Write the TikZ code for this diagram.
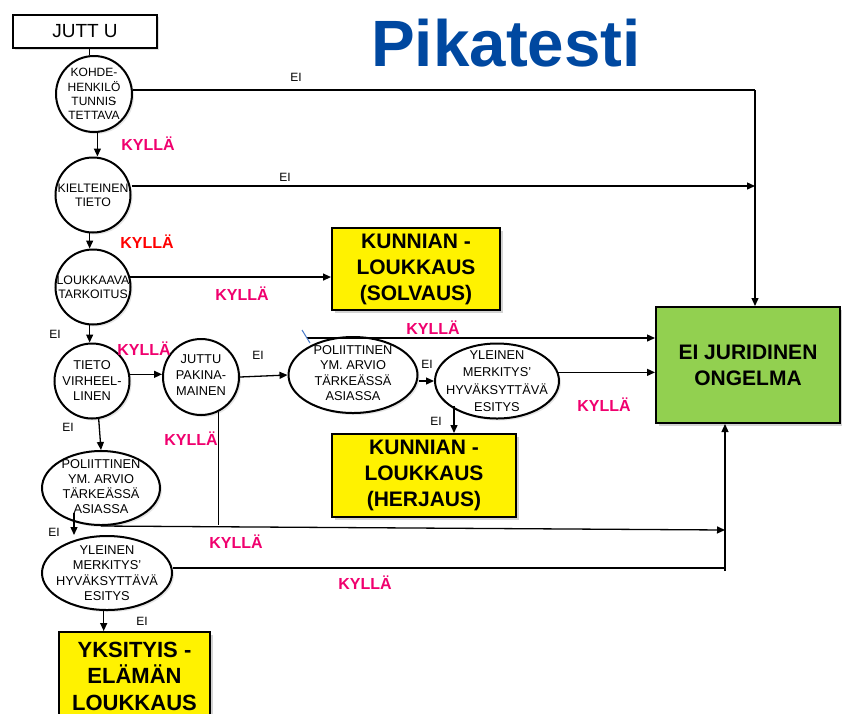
\documentclass[tikz,border=0pt]{standalone}
\usepackage{fontspec}
\setmainfont{Liberation Sans}
\usetikzlibrary{shapes.geometric,arrows.meta,shadows}
\definecolor{titleblue}{RGB}{0,72,160}
\definecolor{kpink}{RGB}{240,0,110}
\definecolor{kred}{RGB}{255,0,0}
\definecolor{jgreen}{RGB}{146,208,80}
\definecolor{slash}{RGB}{70,120,200}
\tikzset{
  shp/.style={draw, line width=2pt, fill=white, inner sep=0pt,
    drop shadow={shadow xshift=2pt, shadow yshift=-2pt, opacity=0.2}},
  circ/.style={shp, circle},
  ell/.style={shp, ellipse},
  lbl/.style={font=\fontsize{12.5}{15}\selectfont, align=center, inner sep=0pt},
  resbox/.style={draw, line width=2pt, inner sep=0pt, align=center,
    font=\fontsize{21}{26}\selectfont\bfseries,
    drop shadow={shadow xshift=3pt, shadow yshift=-3pt, opacity=0.35}},
  conn/.style={line width=1.3pt},
  arr/.style={conn, -{Triangle[length=8pt,width=7pt]}},
  kyl/.style={text=kpink, font=\fontsize{16}{16}\selectfont\bfseries, inner sep=0pt},
  eilbl/.style={font=\fontsize{12}{12}\selectfont, inner sep=0pt},
}
\begin{document}
\begin{tikzpicture}[x=1pt,y=-1pt]
\useasboundingbox (0,0) rectangle (842,713);
% title
\node[anchor=base, text=titleblue, font=\fontsize{65.5}{65}\selectfont\bfseries, inner sep=0pt] (title) at (506,66) {Pikatesti};
% start box
\node[draw, line width=2pt, fill=white, minimum width=144pt, minimum height=33pt, inner sep=0pt,
  font=\fontsize{19}{19}\selectfont,
  drop shadow={shadow xshift=2pt, shadow yshift=-2pt, opacity=0.25}] (jutt) at (85,31.5) {JUTT U};
% circles
\node[circ, minimum size=76pt] (c1) at (94,94) {};
\node[lbl, font=\fontsize{12}{14.3}\selectfont] at (c1) {KOHDE-\\HENKILÖ\\TUNNIS\kern-0.3em-\\TETTAVA};
\node[circ, minimum size=75pt] (c2) at (93,195) {};
\node[lbl, font=\fontsize{12.3}{14}\selectfont] at (c2) {KIELTEINEN\\TIETO};
\node[circ, minimum size=75pt] (c3) at (93,287) {};
\node[lbl, font=\fontsize{12.3}{14}\selectfont] at (c3) {LOUKKAAVA\\TARKOITUS};
\node[circ, minimum size=75pt] (c4) at (92,381) {};
\node[lbl, font=\fontsize{12.8}{15.5}\selectfont] at (c4) {TIETO\\VIRHEEL-\\LINEN};
\node[circ, minimum size=76pt] (c5) at (201,377) {};
\node[lbl, font=\fontsize{12.8}{16}\selectfont] at (201,375) {JUTTU\\PAKINA-\\MAINEN};
% ellipses
\node[ell, minimum width=129pt, minimum height=76pt] (e6) at (353,375) {};
\node[lbl, font=\fontsize{12.8}{15.3}\selectfont] at (353,373) {POLIITTINEN\\YM. ARVIO\\TÄRKEÄSSÄ\\ASIASSA};
\node[ell, minimum width=124pt, minimum height=75pt] (e7) at (497,381) {};
\node[lbl, font=\fontsize{12.8}{17.5}\selectfont] at (497,381) {YLEINEN\\MERKITYS’\\HYVÄKSYTTÄVÄ\\ESITYS};
\node[ell, minimum width=118pt, minimum height=74pt] (e8) at (101,488) {};
\node[lbl, font=\fontsize{12.8}{15}\selectfont] at (101,487) {POLIITTINEN\\YM. ARVIO\\TÄRKEÄSSÄ\\ASIASSA};
\node[ell, minimum width=130pt, minimum height=74pt] (e9) at (107,573) {};
\node[lbl, font=\fontsize{12.8}{15.3}\selectfont] at (107,573) {YLEINEN\\MERKITYS’\\HYVÄKSYTTÄVÄ\\ESITYS};
% result boxes
\node[resbox, fill=yellow, minimum width=168pt, minimum height=82pt] (solv) at (416,269) {KUNNIAN -\\LOUKKAUS\\(SOLVAUS)};
\node[resbox, fill=yellow, minimum width=184pt, minimum height=83pt] (herj) at (424,475.5) {KUNNIAN -\\LOUKKAUS\\(HERJAUS)};
\node[resbox, fill=jgreen, minimum width=184pt, minimum height=116pt] (green) at (748,365) {EI JURIDINEN\\ONGELMA};
\node[resbox, fill=yellow, minimum width=151pt, minimum height=88pt, font=\fontsize{22}{26.5}\selectfont\bfseries] (yks) at (134.5,676) {YKSITYIS -\\ELÄMÄN\\LOUKKAUS};
% helper coordinates
\coordinate (k1) at (755,90);
\coordinate (k2) at (755,186);
\coordinate (k3) at (725,530);
\coordinate (k4) at (725,571);
\coordinate (k5) at (725,568);
\coordinate (v5) at (218,525);
\coordinate (s6) at (307,338);
\coordinate (h7) at (454,406);
\coordinate (a8) at (74,513);
\coordinate (bl1) at (302,330);
\coordinate (bl2) at (310,343);
% connectors
\draw[conn] (c1.97) -- (c1.97 |- jutt.south);
\draw[conn] (c1.east |- k1) -- (k1);
\draw[arr] (k1) -- (k1 |- green.north);
\draw[arr] (c1.-85) -- (c1.-85 |- c2.north);
\draw[arr] (c2.east |- k2) -- (k2);
\draw[arr] (c2.-95) -- (c2.-95 |- c3.north);
\draw[arr] (c3.15) -- (solv.west |- c3.15);
\draw[arr] (c3.-95) -- (c3.-95 |- c4.north);
\draw[arr] (c4.10) -- (c5.west |- c4.10);
\draw[arr] (c5.east) -- (e6.west);
\draw[arr] (e6.east |- e7.west) -- (e7.west);
\draw[arr] (e7.8) -- (green.west |- e7.8);
\draw[arr] (s6) -- (green.west |- s6);
\draw[arr] (h7) -- (h7 |- herj.north);
\draw[conn] (c5.-63) -- (c5.-63 |- v5);
\draw[arr] (c4.-80) -- (e8.north);
\draw[arr] (e8.south) -- (k3);
\draw[arr] (k4) -- (k4 |- green.south);
\draw[conn] (e9.east |- k5) -- (k5);
\draw[arr] (a8) -- (a8 |- e9.north);
\draw[arr] (e9.-95) -- (e9.-95 |- yks.north);
\draw[slash, line width=1pt] (bl1) -- (bl2);
% labels
\node[eilbl] (l1) at (296,77) {EI};
\node[eilbl] (l2) at (285,177) {EI};
\node[kyl] (l3) at (148,144) {KYLLÄ};
\node[kyl, text=kred] (l4) at (147,242) {KYLLÄ};
\node[kyl] (l5) at (242,294) {KYLLÄ};
\node[eilbl] (l6) at (55,334) {EI};
\node[kyl] (l7) at (144,349) {KYLLÄ};
\node[eilbl] (l8) at (258,355) {EI};
\node[eilbl] (l9) at (68,427) {EI};
\node[kyl] (l10) at (191,439) {KYLLÄ};
\node[kyl] (l11) at (433,328) {KYLLÄ};
\node[eilbl] (l12) at (427,364) {EI};
\node[eilbl] (l13) at (436,421) {EI};
\node[kyl] (l14) at (604,405) {KYLLÄ};
\node[eilbl] (l15) at (54,532) {EI};
\node[kyl] (l16) at (236,542) {KYLLÄ};
\node[kyl] (l17) at (365,583) {KYLLÄ};
\node[eilbl] (l18) at (142,621) {EI};
\end{tikzpicture}
\end{document}
